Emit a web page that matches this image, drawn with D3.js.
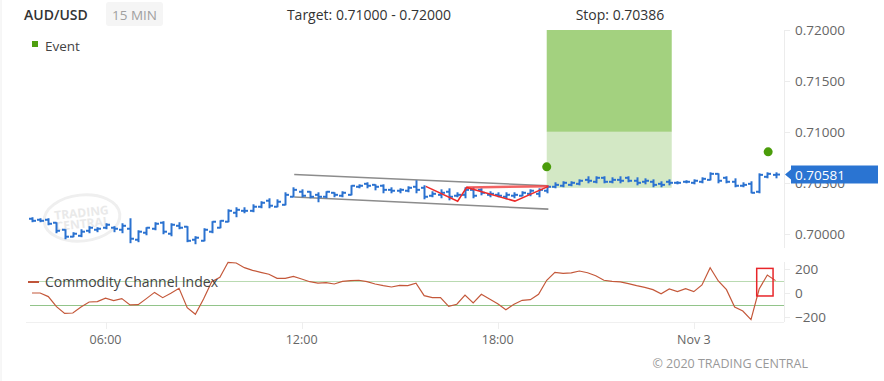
<!doctype html>
<html lang="en">
<head>
<meta charset="utf-8">
<title>AUD/USD 15 MIN</title>
<script src="https://cdn.jsdelivr.net/npm/d3@7"></script>
<style>
  body { margin: 0; background: #fff; }
  svg { display: block; font-family: "Open Sans", sans-serif; }
</style>
</head>
<body>
<script>
var width = 884, height = 381;

// 15 minute bars, first one at 03:45
var startTime = new Date(2020, 10, 2, 3, 45);
var open  = [0.70147,0.70137,0.70137,0.70108,0.70039,0.69971,0.69980,0.70029,0.70039,0.70059,0.70059,0.70039,0.70049,0.69941,0.70010,0.70049,0.70108,
             0.70000,0.70078,0.70069,0.69941,0.69931,0.70020,0.70059,0.70118,0.70206,0.70225,0.70225,0.70265,0.70324,0.70265,0.70284,0.70363,
             0.70412,0.70412,0.70382,0.70363,0.70402,0.70373,0.70382,0.70461,0.70490,0.70480,0.70471,0.70431,0.70422,0.70422,0.70461,0.70451,
             0.70373,0.70382,0.70412,0.70373,0.70382,0.70431,0.70431,0.70382,0.70382,0.70363,0.70373,0.70373,0.70392,0.70392,0.70422,
             0.70461,0.70471,0.70480,0.70490,0.70529,0.70510,0.70549,0.70510,0.70529,0.70549,0.70520,0.70510,0.70510,0.70490,0.70510,0.70500,
             0.70510,0.70500,0.70510,0.70529,0.70588,0.70549,0.70510,0.70471,0.70490,0.70412,0.70559,0.70578];
var high  = [0.70157,0.70147,0.70147,0.70108,0.70039,0.70010,0.70039,0.70069,0.70059,0.70098,0.70069,0.70098,0.70147,0.70029,0.70059,0.70108,0.70118,
             0.70098,0.70108,0.70069,0.69971,0.70049,0.70118,0.70127,0.70235,0.70255,0.70255,0.70284,0.70314,0.70343,0.70333,0.70402,0.70451,
             0.70431,0.70412,0.70402,0.70412,0.70402,0.70412,0.70471,0.70480,0.70500,0.70480,0.70480,0.70451,0.70441,0.70461,0.70520,0.70471,
             0.70412,0.70431,0.70441,0.70402,0.70451,0.70451,0.70441,0.70412,0.70402,0.70402,0.70402,0.70412,0.70431,0.70441,0.70471,
             0.70500,0.70510,0.70510,0.70529,0.70559,0.70559,0.70559,0.70549,0.70559,0.70559,0.70549,0.70539,0.70529,0.70510,0.70529,0.70510,
             0.70520,0.70529,0.70549,0.70598,0.70588,0.70559,0.70539,0.70500,0.70510,0.70588,0.70598,0.70598];
var low   = [0.70118,0.70118,0.70088,0.70010,0.69951,0.69971,0.69971,0.70010,0.70020,0.70049,0.70020,0.70010,0.69912,0.69922,0.69990,0.70039,0.70000,
             0.69980,0.70049,0.69922,0.69902,0.69931,0.70010,0.70059,0.70118,0.70167,0.70206,0.70216,0.70255,0.70255,0.70265,0.70284,0.70363,
             0.70363,0.70353,0.70314,0.70353,0.70363,0.70363,0.70382,0.70451,0.70451,0.70431,0.70402,0.70402,0.70402,0.70412,0.70402,0.70343,
             0.70363,0.70353,0.70333,0.70363,0.70353,0.70353,0.70382,0.70363,0.70363,0.70343,0.70353,0.70373,0.70373,0.70363,0.70402,
             0.70451,0.70461,0.70471,0.70480,0.70500,0.70500,0.70500,0.70500,0.70500,0.70510,0.70480,0.70490,0.70461,0.70461,0.70480,0.70490,
             0.70500,0.70490,0.70500,0.70529,0.70500,0.70500,0.70461,0.70461,0.70402,0.70402,0.70549,0.70549];
var close = [0.70127,0.70127,0.70098,0.70029,0.69971,0.70000,0.70020,0.70059,0.70049,0.70088,0.70049,0.70078,0.69951,0.70020,0.70059,0.70098,0.70020,
             0.70088,0.70059,0.69931,0.69961,0.70039,0.70118,0.70127,0.70225,0.70235,0.70225,0.70265,0.70304,0.70275,0.70314,0.70382,0.70431,
             0.70373,0.70363,0.70363,0.70412,0.70382,0.70402,0.70471,0.70471,0.70471,0.70461,0.70431,0.70422,0.70431,0.70451,0.70431,0.70363,
             0.70392,0.70402,0.70363,0.70382,0.70431,0.70373,0.70402,0.70392,0.70373,0.70382,0.70382,0.70402,0.70422,0.70431,0.70461,
             0.70480,0.70500,0.70500,0.70520,0.70520,0.70549,0.70510,0.70529,0.70520,0.70520,0.70500,0.70520,0.70480,0.70480,0.70500,0.70500,
             0.70510,0.70520,0.70539,0.70588,0.70520,0.70510,0.70471,0.70480,0.70402,0.70578,0.70588,0.70581];
var cci   = [0,0,-30,-114,-170,-167,-117,-75,-72,-44,-64,-47,-100,-97,-47,5,-39,-3,39,-122,-178,-50,94,131,256,250,211,189,172,156,
             122,122,139,117,94,83,86,75,97,103,106,94,75,61,50,64,61,81,-22,-39,
             -39,-111,-94,-17,-83,-11,-50,-89,-139,-94,-61,-56,-11,106,172,164,167,183,169,144,106,97,92,78,61,47,28,-6,33,11,
             36,11,67,211,100,28,-117,-150,-222,33,150,103];

var timeTicks = [new Date(2020, 10, 2, 6), new Date(2020, 10, 2, 12), new Date(2020, 10, 2, 18), new Date(2020, 10, 3, 0)];
var timeLabels = ["06:00", "12:00", "18:00", "Nov 3"];
var priceTicks = [0.70, 0.705, 0.71, 0.715, 0.72];
var cciTicks = [200, 0, -200];
var cciLevels = [100, -100];

var targetLow = 0.71, targetHigh = 0.72, stopLevel = 0.70386, entryLevel = 0.70451, lastPrice = 0.70581;
var targetFrom = 63, targetTo = 78.3;           // bar index
var events = [[63, 0.70657], [90.1, 0.70804]];   // [bar index, price]
var channelTop = [[32.1, 0.70581], [63.2, 0.70471]];
var channelBottom = [[32.1, 0.70360], [63.2, 0.70242]];
var patternW = [[48.2, 0.70465], [52.1, 0.70320], [53.2, 0.70455], [59.1, 0.70320], [63.2, 0.70465]];
var neckline = [[53.2, 0.70455], [63.2, 0.70465]];
var cciBox = [[88.7, 205], [90.7, -25]];

function timeAt(i) { return new Date(startTime.getTime() + i * 15 * 60000); }

var svg = d3.select("body").append("svg")
	.attr("width", width)
	.attr("height", height);

var x = d3.scaleTime()
	.domain([timeAt(-0.73), timeAt(92.04)])
	.range([26, 784]);
var y = d3.scaleLinear().domain([0.6986, 0.72]).range([248, 30]);
var yc = d3.scaleLinear().domain([-242, 275]).range([322, 260]);
function xi(i) { return x(timeAt(i)); }

// frame
svg.append("line").attr("x1", 1).attr("x2", 1).attr("y1", 0).attr("y2", height)
	.attr("stroke", "#eeeeee");

// watermark
var wm = svg.append("g").attr("transform", "translate(82,218) rotate(-6)");
wm.append("ellipse").attr("rx", 38).attr("ry", 23)
	.attr("fill", "none").attr("stroke", "#efefef").attr("stroke-width", 3);
wm.append("text").attr("y", -1).attr("text-anchor", "middle")
	.style("font-size", "12px").style("font-weight", "bold").attr("fill", "#e9e9e9").text("TRADING");
wm.append("text").attr("y", 10).attr("text-anchor", "middle")
	.style("font-size", "12px").style("font-weight", "bold").attr("fill", "#e9e9e9").text("CENTRAL");

// header
svg.append("text").attr("x", 24).attr("y", 20)
	.style("font-size", "14px").style("font-weight", "600").attr("fill", "#333").text("AUD/USD");
svg.append("rect").attr("x", 106).attr("y", 2).attr("width", 57).attr("height", 24).attr("rx", 3)
	.attr("fill", "#f5f5f5");
svg.append("text").attr("x", 134.5).attr("y", 20).attr("text-anchor", "middle")
	.style("font-size", "13.5px").attr("fill", "#a0a0a0").text("15 MIN");
svg.append("text").attr("x", 369).attr("y", 20).attr("text-anchor", "middle")
	.style("font-size", "14px").attr("fill", "#333")
	.text("Target: " + d3.format(".5f")(targetLow) + " - " + d3.format(".5f")(targetHigh));
svg.append("text").attr("x", 620).attr("y", 20).attr("text-anchor", "middle")
	.style("font-size", "14px").attr("fill", "#333").text("Stop: " + d3.format(".5f")(stopLevel));

// legend
svg.append("rect").attr("x", 32).attr("y", 41).attr("width", 6).attr("height", 6).attr("fill", "#4f9f0f");
svg.append("text").attr("x", 45).attr("y", 51).style("font-size", "13.5px").attr("fill", "#444").text("Event");

// target zone
svg.append("rect")
	.attr("x", xi(targetFrom)).attr("width", xi(targetTo) - xi(targetFrom))
	.attr("y", y(targetHigh)).attr("height", y(targetLow) - y(targetHigh))
	.attr("fill", "#a3d17f");
svg.append("rect")
	.attr("x", xi(targetFrom)).attr("width", xi(targetTo) - xi(targetFrom))
	.attr("y", y(targetLow)).attr("height", y(entryLevel) - y(targetLow))
	.attr("fill", "#d3e8c5");

// channel
var seg = d3.line().x(function(d) { return xi(d[0]); }).y(function(d) { return y(d[1]); });
[channelTop, channelBottom].forEach(function(c) {
	svg.append("path").attr("d", seg(c)).attr("fill", "none")
		.attr("stroke", "#8c8c8c").attr("stroke-width", 1.6);
});

// price bars
var bars = svg.append("g").attr("stroke", "#2b72d0").attr("stroke-width", 2);
d3.range(open.length).forEach(function(i) {
	var cx = Math.round(xi(i)) + 0.5;
	bars.append("line").attr("x1", cx).attr("x2", cx)
		.attr("y1", y(high[i]) - 0.5).attr("y2", y(low[i]) + 0.5);
	bars.append("line").attr("x1", cx - 3.5).attr("x2", cx)
		.attr("y1", y(open[i])).attr("y2", y(open[i]));
	bars.append("line").attr("x1", cx).attr("x2", cx + 3.5)
		.attr("y1", y(close[i])).attr("y2", y(close[i]));
});

// pattern
svg.append("path").attr("d", seg(neckline)).attr("fill", "none")
	.attr("stroke", "#f04848").attr("stroke-width", 2.5).attr("stroke-opacity", 0.85);
svg.append("path").attr("d", seg(patternW)).attr("fill", "none")
	.attr("stroke", "#ec2a2a").attr("stroke-width", 1.6);

// events
svg.selectAll("circle.event").data(events).enter().append("circle")
	.attr("class", "event")
	.attr("cx", function(d) { return xi(d[0]); })
	.attr("cy", function(d) { return y(d[1]); })
	.attr("r", 4.5).attr("fill", "#4a9c0a");

// price axis (the 0.70500 label sits under the last price box, as in the original)
svg.append("line").attr("x1", 784.5).attr("x2", 784.5).attr("y1", 30).attr("y2", 248).attr("stroke", "#ececec");
priceTicks.forEach(function(p) {
	svg.append("line").attr("x1", 784).attr("x2", 790).attr("y1", Math.round(y(p)) + 0.5).attr("y2", Math.round(y(p)) + 0.5)
		.attr("stroke", "#ececec");
	svg.append("text").attr("x", 795).attr("y", y(p) + 5)
		.style("font-size", "13.5px").attr("fill", "#666").text(d3.format(".5f")(p));
});

// last price marker
var ly = y(lastPrice);
svg.append("path")
	.attr("d", "M785," + ly + "L791," + (ly - 5) + "L791," + (ly - 9) + "L878," + (ly - 9) +
		"L878," + (ly + 9) + "L791," + (ly + 9) + "L791," + (ly + 5) + "Z")
	.attr("fill", "#2a74d2");
svg.append("text").attr("x", 795).attr("y", ly + 5)
	.style("font-size", "13.5px").attr("fill", "#fff").text(d3.format(".5f")(lastPrice));

// CCI panel
cciLevels.forEach(function(v, k) {
	svg.append("line").attr("x1", 30).attr("x2", 784).attr("y1", Math.round(yc(v)) + 0.5).attr("y2", Math.round(yc(v)) + 0.5)
		.attr("stroke", k == 0 ? "#b9dab1" : "#92c48a");
});
svg.append("line").attr("x1", 784.5).attr("x2", 784.5).attr("y1", 262).attr("y2", 322).attr("stroke", "#ececec");
cciTicks.forEach(function(v) {
	svg.append("line").attr("x1", 784).attr("x2", 790).attr("y1", Math.round(yc(v)) + 0.5).attr("y2", Math.round(yc(v)) + 0.5)
		.attr("stroke", "#ececec");
	svg.append("text").attr("x", 795).attr("y", yc(v) + 5)
		.style("font-size", "13.5px").attr("fill", "#666").text(v == 0 ? "0" : d3.format("d")(v));
});

var cciLine = d3.line()
	.x(function(d, i) { return xi(i); })
	.y(function(d) { return yc(d); });
svg.append("path").datum(cci).attr("d", cciLine).attr("fill", "none")
	.attr("stroke", "#c4583a").attr("stroke-width", 1.2);

svg.append("rect")
	.attr("x", xi(cciBox[0][0])).attr("y", yc(cciBox[0][1]))
	.attr("width", xi(cciBox[1][0]) - xi(cciBox[0][0])).attr("height", yc(cciBox[1][1]) - yc(cciBox[0][1]))
	.attr("fill", "none").attr("stroke", "#e8262a").attr("stroke-width", 1.5);

svg.append("rect").attr("x", 28).attr("y", 281).attr("width", 11).attr("height", 2).attr("fill", "#c0553a");
svg.append("text").attr("x", 45).attr("y", 287)
	.style("font-size", "14px").attr("fill", "#444").text("Commodity Channel Index");

// time axis
svg.append("line").attr("x1", 26).attr("x2", 784).attr("y1", 322.5).attr("y2", 322.5).attr("stroke", "#f0f0f0");
timeTicks.forEach(function(t, k) {
	svg.append("line").attr("x1", Math.round(x(t)) + 0.5).attr("x2", Math.round(x(t)) + 0.5)
		.attr("y1", 322).attr("y2", 329).attr("stroke", "#eeeeee");
	svg.append("text").attr("x", x(t)).attr("y", 344).attr("text-anchor", "middle")
		.style("font-size", "12.5px").attr("fill", "#666").text(timeLabels[k]);
});

svg.append("text").attr("x", 808).attr("y", 368).attr("text-anchor", "end")
	.style("font-size", "12.5px").attr("fill", "#999").text("\u00a9 2020 TRADING CENTRAL");
</script>
</body>
</html>
